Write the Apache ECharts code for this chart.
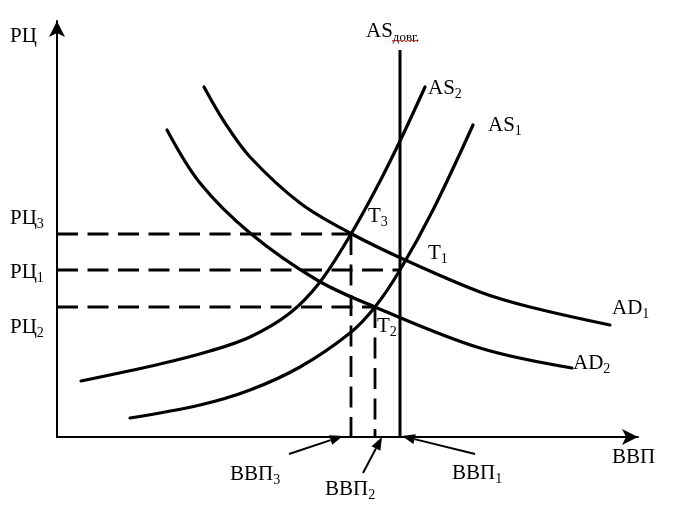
<!DOCTYPE html>
<html>
<head>
<meta charset="utf-8">
<script src="https://cdn.jsdelivr.net/npm/echarts@6/dist/echarts.min.js"></script>
<style>html,body{margin:0;padding:0;background:#fff}#c{width:674px;height:506px}</style>
</head>
<body>
<div id="c"></div>
<script>
// Abstract AD-AS diagram; coordinates in diagram units (0..581 horizontal, 0..416 vertical)
const AD1 = [[147,350],[168,314],[193,280],[243,234],[293,204],[346,178],[423,145],[473,130],[553,112]];
const AD2 = [[110,307],[143,254],[193,204],[260,157],[318,130],[423,89],[515,69]];
const AS1 = [[73,19],[143,32],[193,47],[243,70],[293,104],[318,130],[343,167],[376,227],[416,312]];
const AS2 = [[24,56],[103,73],[153,86],[193,100],[233,124],[263,155],[294,203],[320,250],[343,296],[368,350]];
const ASlongX = 343, ASlongTop = 387;
// equilibrium price levels and output levels
const priceLevels = {P3: 203, P1: 167, P2: 130};
const outputLevels = {Y3: 294, Y1: 343, Y2: 318};

const FONT = '"Liberation Serif","Times New Roman",serif';
const chart = echarts.init(document.getElementById('c'), null, {renderer: 'canvas'});

function curve(data) {
  return {type: 'line', data: data, smooth: 0.35, showSymbol: false, symbol: 'none',
    lineStyle: {color: '#000', width: 3.2, cap: 'round'}, silent: true, animation: false, z: 3};
}
function dashed(data) {
  return {type: 'line', data: data, showSymbol: false, symbol: 'none',
    lineStyle: {color: '#000', width: 2.8, type: [21, 9.5], cap: 'butt'}, silent: true, animation: false, z: 2};
}

const series = [
  curve(AD1), curve(AD2), curve(AS1), curve(AS2),
  {type: 'line', data: [[ASlongX, 0], [ASlongX, ASlongTop]], showSymbol: false, symbol: 'none',
   lineStyle: {color: '#000', width: 3}, silent: true, animation: false, z: 3},
  dashed([[0, priceLevels.P3], [outputLevels.Y3, priceLevels.P3]]),
  dashed([[0, priceLevels.P1], [outputLevels.Y1, priceLevels.P1]]),
  dashed([[0, priceLevels.P2], [outputLevels.Y2, priceLevels.P2]]),
  dashed([[outputLevels.Y3, priceLevels.P3], [outputLevels.Y3, 0]]),
  dashed([[outputLevels.Y2, priceLevels.P2], [outputLevels.Y2, 0]])
];

function lbl(x, y, main, sub, subSize, subDrop) {
  const els = [{type: 'text', x: x, y: y, z: 10, silent: true,
    style: {text: main, font: '21px ' + FONT, fill: '#000', textAlign: 'left', textVerticalAlign: 'middle'}}];
  if (sub) {
    const ctx = document.createElement('canvas').getContext('2d');
    ctx.font = '21px ' + FONT;
    const w = ctx.measureText(main).width;
    els.push({type: 'text', x: x + w, y: y + (subDrop || 6), z: 10, silent: true,
      style: {text: sub, font: (subSize || 14) + 'px ' + FONT, fill: '#000', textAlign: 'left', textVerticalAlign: 'middle'}});
  }
  return els;
}
function arrow(x1, y1, x2, y2) {
  const ang = Math.atan2(y2 - y1, x2 - x1), L = 13, H = 5;
  const bx = x2 - L * Math.cos(ang), by = y2 - L * Math.sin(ang);
  const px = -Math.sin(ang) * H, py = Math.cos(ang) * H;
  return [
    {type: 'line', silent: true, z: 10, shape: {x1: x1, y1: y1, x2: bx, y2: by}, style: {stroke: '#000', lineWidth: 2}},
    {type: 'polygon', silent: true, z: 10, shape: {points: [[x2, y2], [bx + px, by + py], [bx - px, by - py]]}, style: {fill: '#000'}}
  ];
}
const wavy = [];
for (let x = 392; x <= 418; x += 2) wavy.push([x, (x / 2) % 2 === 0 ? 40 : 42]);

const graphic = [].concat(
  lbl(10, 36, 'РЦ'),
  lbl(10, 218, 'РЦ', '3'),
  lbl(10, 272, 'РЦ', '1'),
  lbl(10, 327, 'РЦ', '2'),
  lbl(366, 31, 'AS', 'довг.', 13, 7),
  lbl(428, 88, 'AS', '2'),
  lbl(488, 125, 'AS', '1'),
  lbl(368, 216, 'Т', '3'),
  lbl(428, 253, 'Т', '1'),
  lbl(377, 326, 'Т', '2'),
  lbl(612, 308, 'AD', '1'),
  lbl(573, 363, 'AD', '2'),
  lbl(612, 457, 'ВВП'),
  lbl(230, 474, 'ВВП', '3'),
  lbl(325, 489, 'ВВП', '2'),
  lbl(452, 473, 'ВВП', '1'),
  arrow(289, 454, 343, 436),
  arrow(363, 473, 382, 437),
  arrow(475, 454, 402, 436),
  [{type: 'polyline', silent: true, z: 10, shape: {points: wavy}, style: {stroke: '#e53030', lineWidth: 1, fill: null}}]
);

chart.setOption({
  animation: false,
  backgroundColor: '#fff',
  grid: {left: 57, right: 36, top: 21, bottom: 69, containLabel: false},
  xAxis: {type: 'value', min: 0, max: 581, axisLabel: {show: false}, axisTick: {show: false}, splitLine: {show: false},
    axisLine: {show: true, onZero: false, symbol: ['none', 'arrow'], symbolSize: [12, 16], lineStyle: {color: '#000', width: 2}}},
  yAxis: {type: 'value', min: 0, max: 416, axisLabel: {show: false}, axisTick: {show: false}, splitLine: {show: false},
    axisLine: {show: true, onZero: false, symbol: ['none', 'arrow'], symbolSize: [12, 16], lineStyle: {color: '#000', width: 2}}},
  series: series,
  graphic: graphic
});
</script>
</body>
</html>
